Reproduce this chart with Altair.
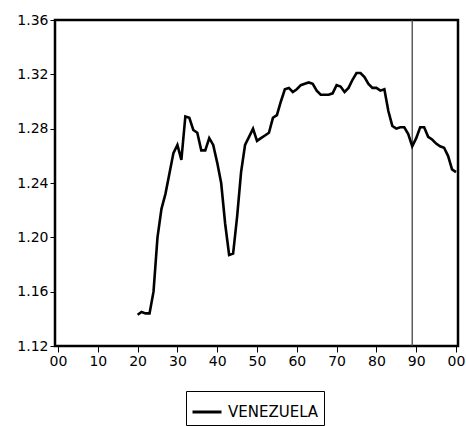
import altair as alt
import pandas as pd

years = list(range(1920, 2001))
venezuela = [
    1.143, 1.145, 1.144, 1.144, 1.160, 1.200, 1.221, 1.232, 1.247, 1.262,
    1.268, 1.257, 1.289, 1.288, 1.279, 1.277, 1.264, 1.264, 1.273, 1.268,
    1.255, 1.240, 1.210, 1.187, 1.188, 1.215, 1.248, 1.268, 1.274, 1.280,
    1.271, 1.273, 1.275, 1.277, 1.288, 1.290, 1.300, 1.309, 1.310, 1.307,
    1.309, 1.312, 1.313, 1.314, 1.313, 1.308, 1.305, 1.305, 1.305, 1.306,
    1.312, 1.311, 1.307, 1.310, 1.316, 1.321, 1.321, 1.318, 1.313, 1.310,
    1.310, 1.308, 1.309, 1.293, 1.282, 1.280, 1.281, 1.281, 1.276, 1.267,
    1.273, 1.281, 1.281, 1.274, 1.272, 1.269, 1.267, 1.266, 1.260, 1.250,
    1.248,
]
series_name = "VENEZUELA"
marker_year = [1989]
x_ticks = list(range(1900, 2001, 10))
y_ticks = [1.12, 1.16, 1.20, 1.24, 1.28, 1.32, 1.36]

df = pd.DataFrame({"year": years, "value": venezuela, "series": series_name})
marker_df = pd.DataFrame({"year": marker_year})

FONT = "DejaVu Sans"

xscale = alt.Scale(domain=[1899.25, 2000.5], nice=False, zero=False)
yscale = alt.Scale(domain=[1.12, 1.36], nice=False, zero=False)

line = alt.Chart(df).mark_line(strokeWidth=2.6, clip=True).encode(
    x=alt.X("year:Q", scale=xscale,
            axis=alt.Axis(values=x_ticks, title=None, grid=False, domain=False,
                          tickSize=6, tickColor="black", tickWidth=1,
                          labelFont=FONT, labelFontSize=14, labelColor="black",
                          labelPadding=2, labelFlush=False,
                          labelExpr="(datum.value % 100 < 10 ? '0' : '') + (datum.value % 100)")),
    y=alt.Y("value:Q", scale=yscale,
            axis=alt.Axis(values=y_ticks, format=".2f", title=None, grid=False,
                          domain=False, tickSize=5, tickColor="black", tickWidth=1,
                          labelFont=FONT, labelFontSize=14, labelColor="black",
                          labelPadding=2, labelFlush=False)),
    color=alt.Color("series:N",
                    scale=alt.Scale(domain=[series_name], range=["black"]),
                    legend=alt.Legend(title=None, orient="none", legendX=131, legendY=371,
                                      symbolType="stroke", symbolStrokeWidth=3,
                                      symbolSize=841, strokeColor="black",
                                      padding=5, labelFont=FONT, labelFontSize=15,
                                      labelColor="black", labelOffset=5)),
)

rule = alt.Chart(marker_df).mark_rule(color="#444444", strokeWidth=1.3).encode(
    x=alt.X("year:Q", scale=xscale),
)

chart = alt.layer(rule, line).properties(
    width=403, height=326,
    autosize=alt.AutoSizeParams(type="none"),
    padding={"left": 55, "top": 20, "right": 8, "bottom": 80},
    background="white",
).configure_view(stroke="black", strokeWidth=2.5)

chart.save("out.html", embed_options={"renderer": "svg", "actions": False})
